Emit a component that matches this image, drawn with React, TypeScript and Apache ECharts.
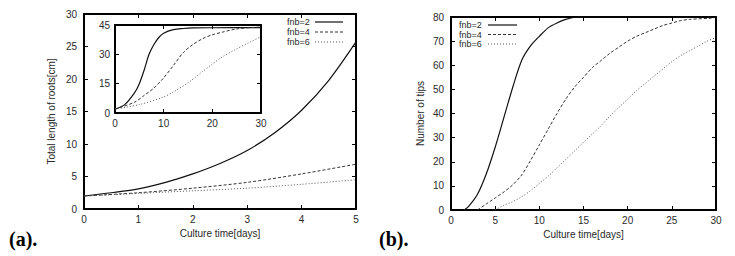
import React, { useEffect, useRef } from "react";
import * as echarts from "echarts";

const seriesNames = ["fnb=2", "fnb=4", "fnb=6"];

// (a) main: total length of roots [cm] vs culture time [days], 0..5
const lenFnb2: number[][] = [[0, 2], [0.5, 2.5], [1, 3.1], [1.5, 4.1], [2, 5.4], [2.5, 7.0], [3, 9.0], [3.5, 11.7], [4, 15.2], [4.5, 19.8], [5, 25.7]];
const lenFnb4: number[][] = [[0, 2], [1, 2.5], [2, 3.2], [3, 4.1], [4, 5.4], [5, 6.9]];
const lenFnb6: number[][] = [[0, 2], [1, 2.4], [2, 2.8], [3, 3.2], [4, 3.8], [5, 4.5]];

// (a) inset: 0..30 days
const insFnb2: number[][] = [[0, 2], [2, 4.3], [4, 10.3], [5, 15], [6, 22], [7, 30], [8, 35], [9, 38.6], [10, 40.8], [12, 42.6], [14, 43.2], [16, 43.5], [20, 43.6], [30, 43.7]];
const insFnb4: number[][] = [[0, 2], [4, 5.5], [6, 9], [8, 12.8], [10, 18], [12, 24.3], [14, 30.8], [16, 35], [18, 38], [20, 40], [22, 41.3], [25, 43], [30, 44]];
const insFnb6: number[][] = [[0, 2], [5, 4.3], [10, 8.2], [12, 10.8], [15, 15.4], [18, 21.2], [20, 25.0], [22, 28.6], [25, 32.8], [28, 36.6], [30, 39]];

// (b): number of tips vs culture time, 0..30
const tipFnb2: number[][] = [[1.5, 0], [2, 1.5], [3, 6.5], [4, 15], [5, 26], [6, 38.5], [7, 51], [8, 62], [9, 68], [10, 72], [11, 75.5], [12, 77.5], [13, 79], [14.5, 80], [30, 80]];
const tipFnb4: number[][] = [[3, 0], [4, 2.5], [5, 5], [6, 7.5], [7, 10.5], [8, 14.5], [9, 20.5], [10, 27], [11, 33.5], [12, 40], [13, 46], [14, 51], [15, 55], [16, 59], [17, 62], [18, 65], [19, 67.5], [20, 70], [21, 72], [22, 73.5], [23, 75], [24, 76.5], [25, 77.5], [26, 78.5], [27, 79], [29.5, 79.5]];
const tipFnb6: number[][] = [[5, 0], [6, 2], [7, 3.5], [8, 5.5], [9, 8], [10, 11], [11, 14], [12, 17.5], [13, 21], [14, 24.5], [15, 28], [16, 31.5], [17, 35], [18, 39], [19, 42.5], [20, 46], [21, 49.5], [22, 52.5], [23, 55.5], [24, 58.5], [25, 61.5], [26, 64], [27, 66], [28, 68], [29, 70], [30, 71.5]];

const FONT = "'Liberation Sans', Arial, sans-serif";
const TXT = "#2a2a2a";

const lineStyles: any[] = [
  { color: "#111", width: 1.2, type: "solid" },
  { color: "#333", width: 1, type: [3, 2] },
  { color: "#555", width: 1, type: [1, 2] },
];

function xPair(gridIndex: number, min: number, max: number, interval: number, name?: string, nameGap = 17) {
  const line = { show: true, onZero: false, lineStyle: { color: "#000", width: 2 } };
  const tick = { show: true, inside: true, length: 4, lineStyle: { color: "#000", width: 1 } };
  return [
    {
      gridIndex, type: "value", min, max, interval, position: "bottom",
      axisLine: line, axisTick: tick, splitLine: { show: false },
      axisLabel: { color: TXT, fontSize: 10, fontFamily: FONT, margin: 5 },
      name, nameLocation: "middle", nameGap,
      nameTextStyle: { color: TXT, fontSize: 10, fontFamily: FONT },
    },
    {
      gridIndex, type: "value", min, max, interval, position: "top",
      axisLine: line, axisTick: tick, splitLine: { show: false },
      axisLabel: { show: false },
    },
  ];
}

function yPair(gridIndex: number, min: number, max: number, interval: number, name?: string, nameGap = 28, margin = 7) {
  const line = { show: true, onZero: false, lineStyle: { color: "#000", width: 2 } };
  const tick = { show: true, inside: true, length: 4, lineStyle: { color: "#000", width: 1 } };
  return [
    {
      gridIndex, type: "value", min, max, interval, position: "left",
      axisLine: line, axisTick: tick, splitLine: { show: false },
      axisLabel: { color: TXT, fontSize: 10, fontFamily: FONT, margin },
      name, nameLocation: "middle", nameGap,
      nameTextStyle: { color: TXT, fontSize: 10, fontFamily: FONT },
    },
    {
      gridIndex, type: "value", min, max, interval, position: "right",
      axisLine: line, axisTick: tick, splitLine: { show: false },
      axisLabel: { show: false },
    },
  ];
}

function mkSeries(name: string, data: number[][], xi: number, yi: number, idx: number, z = 2) {
  return {
    type: "line", name, data, xAxisIndex: xi, yAxisIndex: yi,
    smooth: 0.3, showSymbol: false, symbol: "none", z,
    lineStyle: lineStyles[idx], clip: true,
  };
}

function legendGraphics(x: number, ys: number[], lineX0: number, lineX1: number) {
  const out: any[] = [];
  seriesNames.forEach((n, i) => {
    out.push({
      type: "text", x, y: ys[i], z: 50,
      style: { text: n, fill: TXT, font: `9px ${FONT}`, verticalAlign: "middle", align: "left" },
    });
    out.push({
      type: "line", z: 50,
      shape: { x1: lineX0, y1: ys[i], x2: lineX1, y2: ys[i] },
      style: { stroke: lineStyles[i].color, lineWidth: lineStyles[i].width, lineDash: lineStyles[i].type === "solid" ? null : lineStyles[i].type },
    });
  });
  return out;
}

export default function App() {
  const ref = useRef<HTMLDivElement>(null);
  useEffect(() => {
    if (!ref.current) return;
    const chart = echarts.init(ref.current, undefined, { renderer: "svg" });
    const option: any = {
      animation: false,
      backgroundColor: "#fff",
      grid: [
        { left: 84, top: 14, width: 272, height: 195, containLabel: false },
        { left: 115, top: 25, width: 146, height: 88, show: true, backgroundColor: "#fff", borderWidth: 0, z: 5 },
        { left: 451, top: 17, width: 265, height: 193, containLabel: false },
      ],
      xAxis: [
        ...xPair(0, 0, 5, 1, "Culture time[days]", 17),
        ...xPair(1, 0, 30, 10).map((a: any) => ({ ...a, z: 6, name: undefined })),
        ...xPair(2, 0, 30, 5, "Culture time[days]", 17),
      ],
      yAxis: [
        ...yPair(0, 0, 30, 5, "Total length of roots[cm]", 28),
        ...yPair(1, 0, 45, 15, undefined, 20, 5).map((a: any) => ({ ...a, z: 6 })),
        ...yPair(2, 0, 80, 10, "Number of tips", 26),
      ],
      series: [
        mkSeries(seriesNames[0], lenFnb2, 0, 0, 0),
        mkSeries(seriesNames[1], lenFnb4, 0, 0, 1),
        mkSeries(seriesNames[2], lenFnb6, 0, 0, 2),
        mkSeries(seriesNames[0], insFnb2, 2, 2, 0, 7),
        mkSeries(seriesNames[1], insFnb4, 2, 2, 1, 7),
        mkSeries(seriesNames[2], insFnb6, 2, 2, 2, 7),
        mkSeries(seriesNames[0], tipFnb2, 4, 4, 0),
        mkSeries(seriesNames[1], tipFnb4, 4, 4, 1),
        mkSeries(seriesNames[2], tipFnb6, 4, 4, 2),
      ],
      graphic: [
        ...legendGraphics(287, [22, 32, 42], 315, 343),
        ...legendGraphics(459, [25, 34.5, 44], 488, 517),
        {
          type: "text", left: 9, top: 229, z: 50,
          style: { text: "(a).", fill: "#000", font: `bold 20px 'Liberation Serif', 'Times New Roman', serif` },
        },
        {
          type: "text", left: 379, top: 229, z: 50,
          style: { text: "(b).", fill: "#000", font: `bold 20px 'Liberation Serif', 'Times New Roman', serif` },
        },
      ],
    };
    chart.setOption(option);
    return () => chart.dispose();
  }, []);
  return <div ref={ref} style={{ position: "fixed", left: 0, top: 0, width: 735, height: 256 }} />;
}
